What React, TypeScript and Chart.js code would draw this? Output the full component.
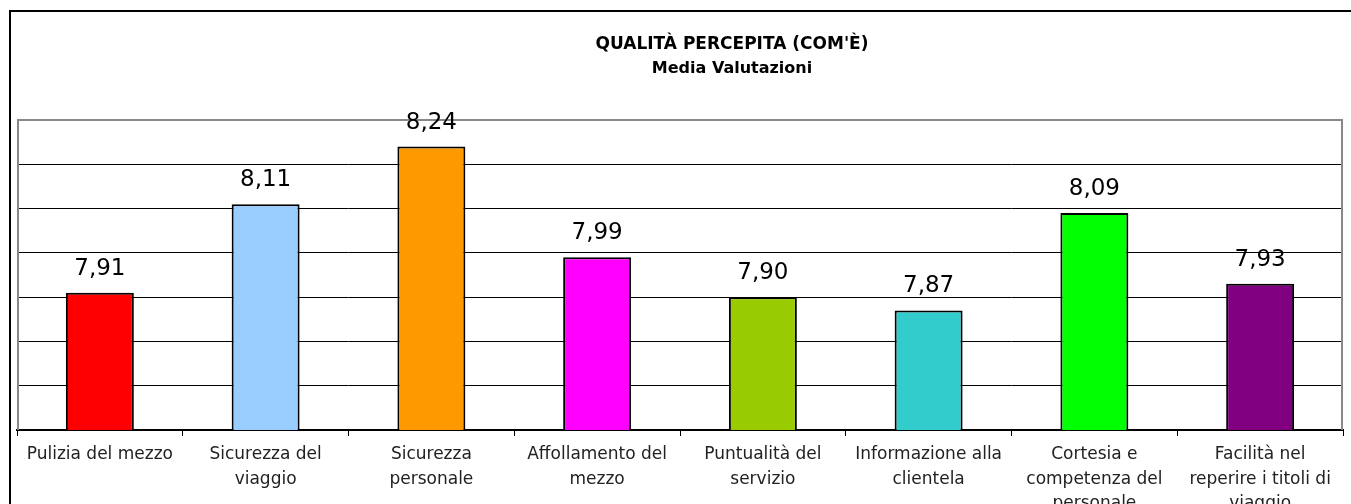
import React, { useEffect, useRef } from "react";
import { Chart, registerables } from "chart.js";

Chart.register(...registerables);

const categories: string[][] = [
  ["Pulizia del mezzo"],
  ["Sicurezza del", "viaggio"],
  ["Sicurezza", "personale"],
  ["Affollamento del", "mezzo"],
  ["Puntualità del", "servizio"],
  ["Informazione alla", "clientela"],
  ["Cortesia e", "competenza del", "personale"],
  ["Facilità nel", "reperire i titoli di", "viaggio"],
];
const values: number[] = [7.91, 8.11, 8.24, 7.99, 7.9, 7.87, 8.09, 7.93];
const barColors: string[] = [
  "#FF0000",
  "#99CCFF",
  "#FF9900",
  "#FF00FF",
  "#99CC00",
  "#33CCCC",
  "#00FF00",
  "#800080",
];
const titleText = "QUALITÀ PERCEPITA (COM'È)";
const subtitleText = "Media Valutazioni";
const yMin = 7.6;
const yMax = 8.3;
const yStep = 0.1;

const FONT = "'DejaVu Sans', sans-serif";

const decorPlugin = {
  id: "decor",
  beforeDraw(chart: any) {
    const ctx = chart.ctx;
    ctx.save();
    ctx.fillStyle = "#ffffff";
    ctx.fillRect(0, 0, chart.width, chart.height);
    // outer border
    ctx.strokeStyle = "#000000";
    ctx.lineWidth = 2;
    ctx.beginPath();
    ctx.moveTo(10, chart.height + 5);
    ctx.lineTo(10, 11);
    ctx.lineTo(chart.width + 5, 11);
    ctx.stroke();
    // titles
    ctx.fillStyle = "#000000";
    ctx.textAlign = "center";
    ctx.textBaseline = "alphabetic";
    ctx.font = `bold 17px ${FONT}`;
    ctx.fillText(titleText, 732, 49);
    ctx.font = `bold 16px ${FONT}`;
    ctx.fillText(subtitleText, 732, 73);
    ctx.restore();
  },
  afterDatasetsDraw(chart: any) {
    const ctx = chart.ctx;
    const area = chart.chartArea;
    ctx.save();
    // plot area border (gray)
    ctx.strokeStyle = "#888888";
    ctx.lineWidth = 2;
    ctx.beginPath();
    ctx.moveTo(area.left + 1, area.bottom);
    ctx.lineTo(area.left + 1, area.top);
    ctx.lineTo(area.right - 1, area.top);
    ctx.lineTo(area.right - 1, area.bottom);
    ctx.stroke();
    // value labels
    const meta = chart.getDatasetMeta(0);
    ctx.fillStyle = "#000000";
    ctx.font = `23px ${FONT}`;
    ctx.textAlign = "center";
    ctx.textBaseline = "alphabetic";
    meta.data.forEach((bar: any, i: number) => {
      const v = chart.data.datasets[0].data[i] as number;
      ctx.fillText(v.toFixed(2).replace(".", ","), bar.x, bar.y - 18);
    });
    ctx.restore();
  },
};

export default function App() {
  const canvasRef = useRef<HTMLCanvasElement | null>(null);

  useEffect(() => {
    if (!canvasRef.current) return;
    const chart = new Chart(canvasRef.current, {
      type: "bar",
      data: {
        labels: categories,
        datasets: [
          {
            data: values,
            backgroundColor: barColors,
            borderColor: "#000000",
            borderWidth: 2,
            borderSkipped: false,
            categoryPercentage: 1,
            barPercentage: 0.41,
          },
        ],
      },
      options: {
        responsive: false,
        animation: false,
        layout: { padding: { left: 17, right: 8, top: 120, bottom: 0 } },
        plugins: {
          legend: { display: false },
          tooltip: { enabled: false },
          title: { display: false },
        },
        scales: {
          x: {
            grid: {
              display: true,
              drawOnChartArea: false,
              drawTicks: true,
              tickLength: 6,
              color: "#000000",
              lineWidth: 1,
            },
            border: { display: true, color: "#000000", width: 2 },
            ticks: {
              color: "#222222",
              font: { family: FONT, size: 17, lineHeight: 1.42 },
              padding: 7,
              maxRotation: 0,
              minRotation: 0,
              autoSkip: false,
            },
            afterFit(scale: any) {
              scale.height = 74;
            },
          },
          y: {
            min: yMin,
            max: yMax,
            ticks: { display: false, stepSize: yStep },
            grid: {
              color: "#000000",
              lineWidth: 1,
              drawTicks: false,
            },
            border: { display: false },
            afterFit(scale: any) {
              scale.width = 0;
            },
          },
        },
      },
      plugins: [decorPlugin],
    });
    return () => chart.destroy();
  }, []);

  return (
    <div style={{ position: "absolute", left: 0, top: 0, width: 1351, height: 504 }}>
      <canvas ref={canvasRef} width={1351} height={504} style={{ display: "block" }} />
    </div>
  );
}
